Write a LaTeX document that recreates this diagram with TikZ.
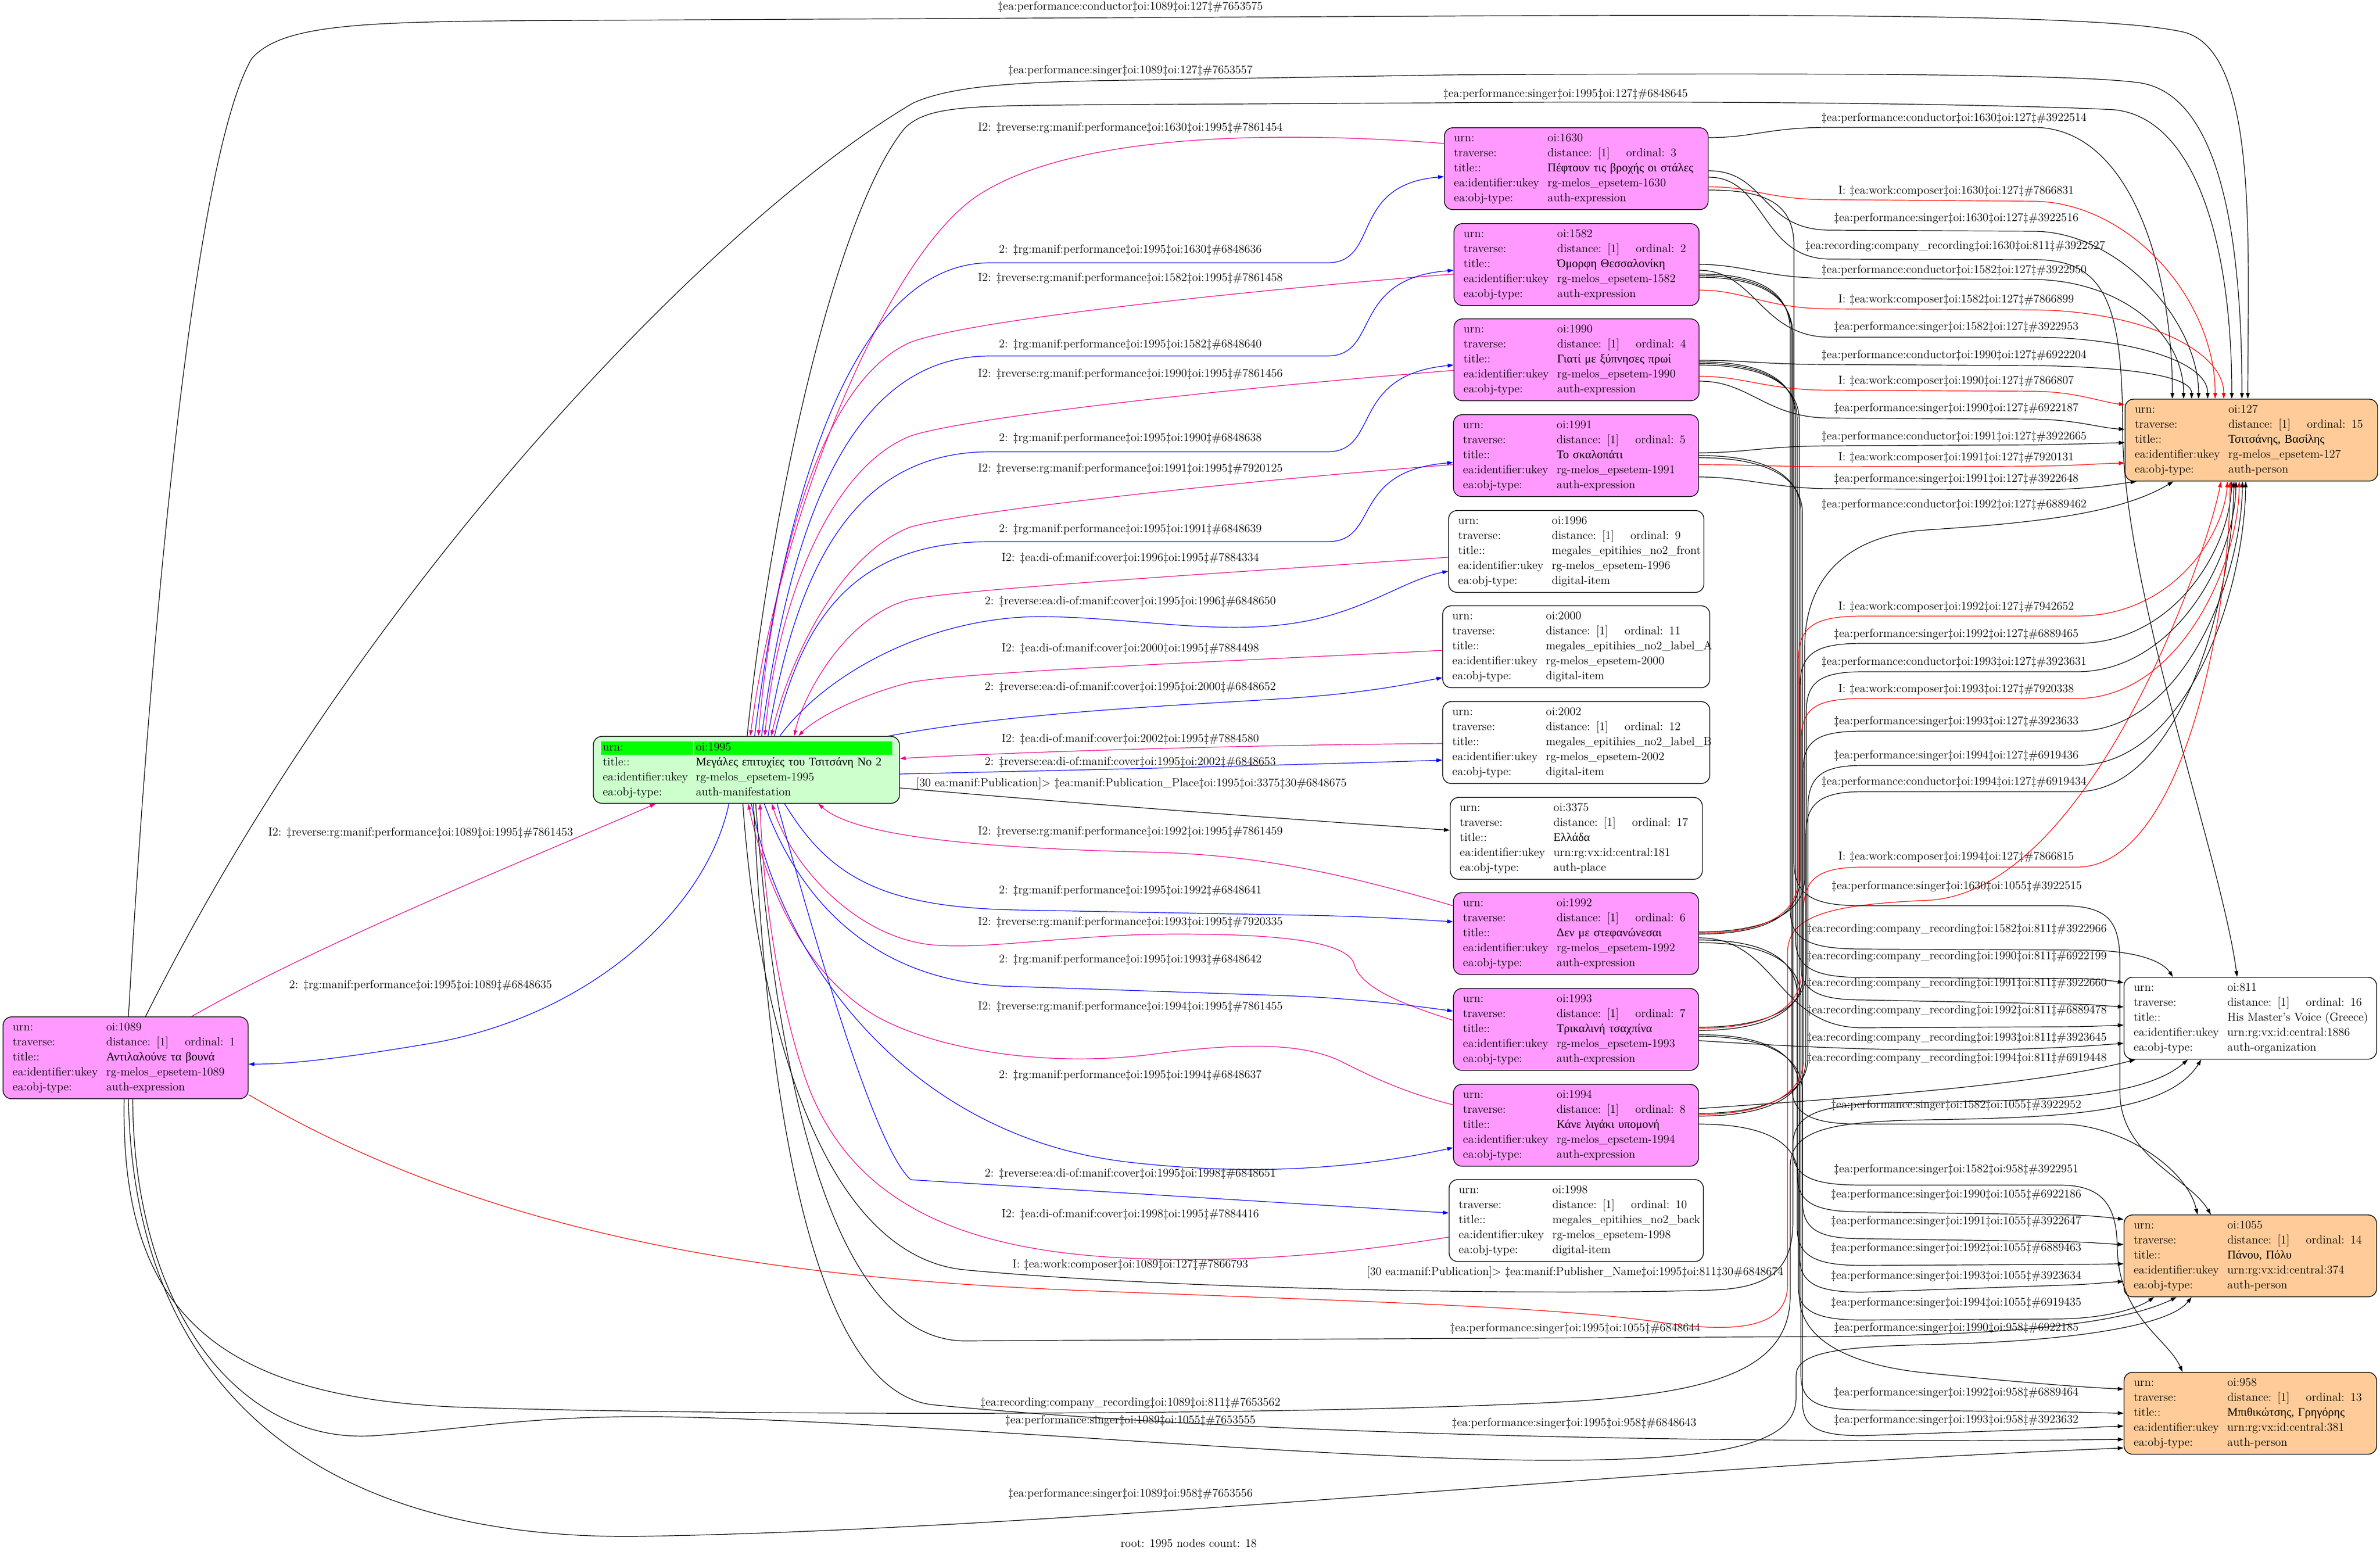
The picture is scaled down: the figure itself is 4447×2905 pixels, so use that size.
\documentclass[tikz,border=0pt]{standalone}
\usepackage{fontspec}
\newfontfamily\grfont{Liberation Serif}
\usepackage{tikz}
\usetikzlibrary{arrows.meta}

\definecolor{exprfill}{HTML}{FF99FF}
\definecolor{agentfill}{HTML}{FFCC99}
\definecolor{maniffill}{HTML}{CCFFCC}
\definecolor{rootgreen}{HTML}{00FF00}

\newcommand{\col}[1]{\makebox[87.5pt][l]{#1}}
\newcommand{\card}[5]{\col{urn:}oi:#1\\
  \col{traverse:}\makebox[73.5pt][l]{distance: [1]}ordinal: #2\\
  \col{title::}\mbox{#3}\\
  \col{ea:identifier:ukey}\mbox{#4}\\
  \col{ea:obj-type:}\mbox{#5}}
\newcommand{\hdr}[2]{\colorbox{rootgreen}{\makebox[#1][l]{\rule[-3.8pt]{0pt}{12.5pt}\hspace{1.8pt}#2}}}
\newcommand{\mcol}[1]{\makebox[88.8pt][l]{\hspace{1.8pt}#1}}

\tikzset{
  rec/.style={draw, line width=0.7pt, rounded corners=8pt, anchor=north west,
    inner xsep=9pt, inner ysep=0pt, minimum height=76.5pt, align=left,
    font=\fontsize{11}{14}\selectfont, text width=#1},
  expr/.style={rec=#1, fill=exprfill},
  agent/.style={rec=218pt, fill=agentfill},
  dig/.style={rec=#1, fill=white},
  wire/.style={line width=0.6pt, -{Triangle[length=5.5pt,width=3.6pt]}},
  rev/.style={wire, draw=magenta},
  fwd/.style={wire, draw=blue},
  comp/.style={wire, draw=red},
  lbl/.style={font=\fontsize{11}{13}\selectfont, inner sep=0pt},
}

\begin{document}
\begin{tikzpicture}[x=0.5pt,y=-0.5pt]
  \fill[white] (0,0) rectangle (4447,2905);
  \useasboundingbox (0,0) rectangle (4447,2905);

  % records
  \node[rec=272pt, fill=maniffill, inner xsep=7pt, minimum height=62.5pt] (n1995) at (1108,1375)
    {\mbox{\setlength{\fboxsep}{0pt}\hdr{86pt}{urn:}\hspace{1pt}\hdr{185pt}{oi:1995}}\\
     \mcol{title::}{\grfont Μεγάλες επιτυχίες του Τσιτσάνη No 2}\\
     \mcol{ea:identifier:ukey}rg-melos\_epsetem-1995\\
     \mcol{ea:obj-type:}auth-manifestation};
  \node[expr=211pt] (n1089) at (5,1899) {\card{1089}{1}{\grfont Αντιλαλούνε τα βουνά}{rg-melos\_epsetem-1089}{auth-expression}};
  \node[expr=228.5pt] (n1630) at (2698,238) {\card{1630}{3}{\grfont Πέφτουν τις βροχής οι στάλες}{rg-melos\_epsetem-1630}{auth-expression}};
  \node[expr=211pt] (n1582) at (2716,417) {\card{1582}{2}{\grfont Όμορφη Θεσσαλονίκη}{rg-melos\_epsetem-1582}{auth-expression}};
  \node[expr=211pt] (n1990) at (2716,595) {\card{1990}{4}{\grfont Γιατί με ξύπνησες πρωί}{rg-melos\_epsetem-1990}{auth-expression}};
  \node[expr=211pt] (n1991) at (2715,774) {\card{1991}{5}{\grfont Το σκαλοπάτι}{rg-melos\_epsetem-1991}{auth-expression}};
  \node[dig=220.5pt] (n1996) at (2706,953) {\card{1996}{9}{megales\_epitihies\_no2\_front}{rg-melos\_epsetem-1996}{digital-item}};
  \node[dig=231.5pt] (n2000) at (2695,1131) {\card{2000}{11}{megales\_epitihies\_no2\_label\_A}{rg-melos\_epsetem-2000}{digital-item}};
  \node[dig=231.5pt] (n2002) at (2695,1310) {\card{2002}{12}{megales\_epitihies\_no2\_label\_B}{rg-melos\_epsetem-2002}{digital-item}};
  \node[dig=217.5pt] (n3375) at (2709,1489) {\card{3375}{17}{\grfont Ελλάδα}{urn:rg:vx:id:central:181}{auth-place}};
  \node[expr=211pt] (n1992) at (2715,1667) {\card{1992}{6}{\grfont Δεν με στεφανώνεσαι}{rg-melos\_epsetem-1992}{auth-expression}};
  \node[expr=211pt] (n1993) at (2715,1846) {\card{1993}{7}{\grfont Τρικαλινή τσαχπίνα}{rg-melos\_epsetem-1993}{auth-expression}};
  \node[expr=211pt] (n1994) at (2715,2025) {\card{1994}{8}{\grfont Κάνε λιγάκι υπομονή}{rg-melos\_epsetem-1994}{auth-expression}};
  \node[dig=219.5pt] (n1998) at (2707,2203) {\card{1998}{10}{megales\_epitihies\_no2\_back}{rg-melos\_epsetem-1998}{digital-item}};
  \node[agent] (n127) at (3970,745) {\card{127}{15}{\grfont Τσιτσάνης, Βασίλης}{rg-melos\_epsetem-127}{auth-person}};
  \node[rec=218pt, fill=white] (n811) at (3968,1825) {\card{811}{16}{His Master's Voice (Greece)}{urn:rg:vx:id:central:1886}{auth-organization}};
  \node[agent] (n1055) at (3968,2269) {\card{1055}{14}{\grfont Πάνου, Πόλυ}{urn:rg:vx:id:central:374}{auth-person}};
  \node[agent] (n958) at (3968,2563) {\card{958}{13}{\grfont Μπιθικώτσης, Γρηγόρης}{urn:rg:vx:id:central:381}{auth-person}};

  % manifestation <-> expressions, items (top side)
  \draw[rev] (n1630.west|-0,268) .. controls (2400,245) and (2000,245) .. (1820,370) .. controls (1640,500) and (1450,1000) .. (n1995.north-|1402,0)
    node[lbl] at (2112,239) {I2: ‡reverse:rg:manif:performance‡oi:1630‡oi:1995‡\#7861454};
  \draw[fwd] (n1995.north-|1410,0) .. controls (1470,900) and (1600,491) .. (1850,491) -- (2480,491) .. controls (2580,491) and (2520,345) .. (n1630.west|-0,330)
    node[lbl] at (2112,467) {2: ‡rg:manif:performance‡oi:1995‡oi:1630‡\#6848636};
  \draw[rev] (n1582.west|-0,512) .. controls (2300,545) and (1800,600) .. (1700,640) .. controls (1520,720) and (1440,1100) .. (n1995.north-|1417,0)
    node[lbl] at (2112,520) {I2: ‡reverse:rg:manif:performance‡oi:1582‡oi:1995‡\#7861458};
  \draw[fwd] (n1995.north-|1423,0) .. controls (1480,950) and (1600,665) .. (1850,665) -- (2480,665) .. controls (2580,665) and (2520,520) .. (n1582.west|-0,505)
    node[lbl] at (2112,644) {2: ‡rg:manif:performance‡oi:1995‡oi:1582‡\#6848640};
  \draw[rev] (n1990.west|-0,692) .. controls (2300,725) and (1800,780) .. (1700,815) .. controls (1540,880) and (1450,1150) .. (n1995.north-|1429,0)
    node[lbl] at (2112,699) {I2: ‡reverse:rg:manif:performance‡oi:1990‡oi:1995‡\#7861456};
  \draw[fwd] (n1995.north-|1435,0) .. controls (1490,1050) and (1600,844) .. (1850,844) -- (2480,844) .. controls (2580,844) and (2520,700) .. (n1990.west|-0,682)
    node[lbl] at (2112,819) {2: ‡rg:manif:performance‡oi:1995‡oi:1990‡\#6848638};
  \draw[rev] (n1991.west|-0,868) .. controls (2300,900) and (1800,955) .. (1700,985) .. controls (1560,1040) and (1470,1250) .. (n1995.north-|1441,0)
    node[lbl] at (2112,876) {I2: ‡reverse:rg:manif:performance‡oi:1991‡oi:1995‡\#7920125};
  \draw[fwd] (n1995.north-|1447,0) .. controls (1500,1150) and (1600,1012) .. (1850,1012) -- (2480,1012) .. controls (2580,1012) and (2520,880) .. (n1991.west|-0,864)
    node[lbl] at (2112,989) {2: ‡rg:manif:performance‡oi:1995‡oi:1991‡\#6848639};
  \draw[rev] (n1996.west|-0,1041) .. controls (2300,1070) and (1800,1100) .. (1700,1120) .. controls (1580,1150) and (1500,1300) .. (n1995.north-|1484,0)
    node[lbl] at (2112,1043) {I2: ‡ea:di-of:manif:cover‡oi:1996‡oi:1995‡\#7884334};
  \draw[fwd] (n1995.north-|1457,0) .. controls (1550,1250) and (1750,1150) .. (1950,1152) .. controls (2150,1154) and (2330,1200) .. (2500,1145) .. controls (2580,1120) and (2640,1080) .. (n1996.west|-0,1067)
    node[lbl] at (2112,1124) {2: ‡reverse:ea:di-of:manif:cover‡oi:1995‡oi:1996‡\#6848650};
  \draw[rev] (n2000.west|-0,1215) .. controls (2300,1235) and (1800,1255) .. (1700,1275) .. controls (1600,1300) and (1520,1345) .. (n1995.north-|1492,0)
    node[lbl] at (2112,1212) {I2: ‡ea:di-of:manif:cover‡oi:2000‡oi:1995‡\#7884498};
  \draw[fwd] (n1995.north-|1660,0) .. controls (1900,1330) and (2200,1318) .. (2400,1305) .. controls (2550,1295) and (2620,1280) .. (n2000.west|-0,1266)
    node[lbl] at (2112,1284) {2: ‡reverse:ea:di-of:manif:cover‡oi:1995‡oi:2000‡\#6848652};
  \draw[rev] (n2002.west|-0,1389) .. controls (2300,1392) and (1900,1405) .. (n1995.east|-0,1417)
    node[lbl] at (2112,1381) {I2: ‡ea:di-of:manif:cover‡oi:2002‡oi:1995‡\#7884580};
  \draw[fwd] (n1995.east|-0,1446) .. controls (1950,1440) and (2400,1430) .. (n2002.west|-0,1420)
    node[lbl] at (2112,1424) {2: ‡reverse:ea:di-of:manif:cover‡oi:1995‡oi:2002‡\#6848653};
  \draw[wire] (n1995.east|-0,1472) .. controls (2000,1500) and (2400,1530) .. (n3375.west|-0,1551)
    node[lbl] at (2114,1464) {[30 ea:manif:Publication]> ‡ea:manif:Publication\_Place‡oi:1995‡oi:3375‡30\#6848675};

  % manifestation <-> expressions, items (bottom side)
  \draw[rev] (n1992.west|-0,1692) .. controls (2500,1630) and (2350,1597) .. (2150,1592) .. controls (1850,1585) and (1600,1565) .. (n1995.south-|1529,0)
    node[lbl] at (2112,1553.6) {I2: ‡reverse:rg:manif:performance‡oi:1992‡oi:1995‡\#7861459};
  \draw[fwd] (n1995.south-|1466,0) .. controls (1550,1640) and (1650,1695) .. (1900,1700) -- (2450,1710) .. controls (2580,1713) and (2650,1718) .. (n1992.west|-0,1722)
    node[lbl] at (2112,1664) {2: ‡rg:manif:performance‡oi:1995‡oi:1992‡\#6848641};
  \draw[rev] (n1993.west|-0,1906) .. controls (2600,1870) and (2540,1840) .. (2530,1800) .. controls (2515,1760) and (2400,1745) .. (2200,1745) .. controls (2000,1745) and (1850,1775) .. (1740,1765) .. controls (1600,1750) and (1480,1620) .. (n1995.south-|1442,0)
    node[lbl] at (2112,1723) {I2: ‡reverse:rg:manif:performance‡oi:1993‡oi:1995‡\#7920335};
  \draw[fwd] (n1995.south-|1428,0) .. controls (1500,1700) and (1650,1840) .. (1900,1843) -- (2400,1860) .. controls (2550,1866) and (2650,1880) .. (n1993.west|-0,1889)
    node[lbl] at (2112,1792.5) {2: ‡rg:manif:performance‡oi:1995‡oi:1993‡\#6848642};
  \draw[rev] (n1994.west|-0,2064) .. controls (2620,2040) and (2560,2010) .. (2500,1980) .. controls (2420,1945) and (2300,1950) .. (2150,1970) .. controls (1950,1995) and (1750,1960) .. (1640,1900) .. controls (1500,1820) and (1430,1650) .. (n1995.south-|1398,0)
    node[lbl] at (2112,1881) {I2: ‡reverse:rg:manif:performance‡oi:1994‡oi:1995‡\#7861455};
  \draw[fwd] (n1995.south-|1404,0) .. controls (1460,1800) and (1700,2120) .. (2100,2170) .. controls (2350,2200) and (2550,2180) .. (n1994.west|-0,2144)
    node[lbl] at (2112,2009) {2: ‡rg:manif:performance‡oi:1995‡oi:1994‡\#6848637};
  \draw[fwd] (n1995.south-|1452,0) .. controls (1540,1820) and (1640,2150) .. (1702,2204) -- (n1998.west|-0,2266)
    node[lbl] at (2112,2193) {2: ‡reverse:ea:di-of:manif:cover‡oi:1995‡oi:1998‡\#6848651};
  \draw[rev] (n1998.west|-0,2311) .. controls (2500,2345) and (2300,2360) .. (2100,2350) .. controls (1800,2335) and (1580,2250) .. (1500,2000) .. controls (1450,1850) and (1425,1650) .. (n1995.south-|1420,0)
    node[lbl] at (2112,2268.5) {I2: ‡ea:di-of:manif:cover‡oi:1998‡oi:1995‡\#7884416};

  % manifestation <-> 1089
  \draw[rev] (n1089.north-|358,0) .. controls (600,1760) and (1000,1600) .. (n1995.south-|1225,0)
    node[lbl] at (786,1555.5) {I2: ‡reverse:rg:manif:performance‡oi:1089‡oi:1995‡\#7861453};
  \draw[fwd] (n1995.south-|1362,0) .. controls (1320,1700) and (1100,1900) .. (800,1950) .. controls (650,1975) and (550,1988) .. (n1089.east|-0,1988)
    node[lbl] at (786,1841) {2: ‡rg:manif:performance‡oi:1995‡oi:1089‡\#6848635};

  % long edges over the top
  \draw[wire] (n1089.north-|240,0) .. controls (280,1200) and (360,300) .. (470,110) .. controls (530,40) and (700,40) .. (1100,38) -- (2700,30) .. controls (3500,26) and (3950,30) .. (4080,60) .. controls (4220,95) and (4200,450) .. (n127.north-|4200,0)
    node[lbl] at (2112,13.4) {‡ea:performance:conductor‡oi:1089‡oi:127‡\#7653575};
  \draw[wire] (n1089.north-|272,0) .. controls (680,1080) and (1350,400) .. (1707,192) .. controls (1780,160) and (1900,153) .. (2100,150) -- (2700,140) .. controls (3500,135) and (3900,140) .. (4000,155) .. controls (4150,180) and (4189,450) .. (n127.north-|4189,0)
    node[lbl] at (2112,132) {‡ea:performance:singer‡oi:1089‡oi:127‡\#7653557};
  \draw[wire] (n1995.north-|1396,0) .. controls (1440,950) and (1560,400) .. (1690,240) .. controls (1730,200) and (1800,198) .. (2000,196) -- (2700,192) .. controls (3300,187) and (3800,197) .. (3950,205) .. controls (4100,220) and (4170,450) .. (n127.north-|4170,0)
    node[lbl] at (2925,176) {‡ea:performance:singer‡oi:1995‡oi:127‡\#6848645};

  % long edges under the bottom
  \draw[comp] (n1089.east|-0,2045) .. controls (900,2300) and (1400,2385) .. (2000,2410) .. controls (2500,2430) and (2900,2440) .. (3100,2470) .. controls (3250,2492) and (3340,2480) .. (3340,2400) -- (3340,1780) .. controls (3340,1710) and (3420,1690) .. (3600,1682) .. controls (3900,1670) and (4120,1050) .. (n127.south-|4150,0)
    node[lbl] at (2112,2362.6) {I: ‡ea:work:composer‡oi:1089‡oi:127‡\#7866793};
  \draw[wire] (n1995.south-|1388,0) .. controls (1420,1950) and (1550,2345) .. (1800,2372) .. controls (2200,2410) and (2900,2420) .. (3200,2410) .. controls (3320,2406) and (3350,2360) .. (3350,2280) -- (3350,2140) .. controls (3350,2080) and (3400,2062) .. (3550,2060) .. controls (3800,2056) and (4000,2055) .. (n811.south-|4088,0)
    node[lbl] at (2943,2377) {[30 ea:manif:Publication]> ‡ea:manif:Publisher\_Name‡oi:1995‡oi:811‡30\#6848674};
  \draw[wire] (n1995.south-|1412,0) .. controls (1450,2000) and (1550,2500) .. (1800,2505) -- (3400,2497) .. controls (3700,2495) and (3950,2480) .. (n1055.south-|4067,0)
    node[lbl] at (2943,2482) {‡ea:performance:singer‡oi:1995‡oi:1055‡\#6848644};
  \draw[wire] (n1089.south-|232,0) .. controls (225,2450) and (400,2620) .. (900,2630) .. controls (1400,2645) and (2400,2645) .. (2900,2620) .. controls (3200,2605) and (3345,2560) .. (3345,2420) -- (3345,2180) .. controls (3345,2110) and (3420,2095) .. (3600,2092) .. controls (3850,2088) and (4050,2080) .. (n811.south-|4113,0)
    node[lbl] at (2112,2620.7) {‡ea:recording:company\_recording‡oi:1089‡oi:811‡\#7653562};
  \draw[wire] (n1089.south-|248,0) .. controls (250,2450) and (450,2700) .. (700,2682) .. controls (900,2668) and (1000,2640) .. (1300,2648) .. controls (1800,2662) and (2500,2728) .. (2900,2728) .. controls (3250,2728) and (3356,2690) .. (3356,2610) -- (3356,2570) .. controls (3356,2530) and (3420,2516) .. (3600,2512) .. controls (3850,2507) and (4050,2480) .. (n1055.south-|4095,0)
    node[lbl] at (2112,2654) {‡ea:performance:singer‡oi:1089‡oi:1055‡\#7653555};
  \draw[wire] (n1995.south-|1408,0) .. controls (1440,2200) and (1550,2612) .. (1750,2625) .. controls (2200,2668) and (3000,2700) .. (n958.west|-0,2689)
    node[lbl] at (2941,2659) {‡ea:performance:singer‡oi:1995‡oi:958‡\#6848643};
  \draw[wire] (n1089.south-|240,0) .. controls (250,2600) and (600,2880) .. (1200,2870) .. controls (1800,2860) and (2600,2790) .. (3200,2748) .. controls (3600,2720) and (3850,2710) .. (n958.west|-0,2705)
    node[lbl] at (2112,2790.6) {‡ea:performance:singer‡oi:1089‡oi:958‡\#7653556};

  % 1630
  \draw[wire] (n1630.east|-0,257) .. controls (3280,257) and (3300,238) .. (3420,238) -- (3800,238) .. controls (3980,238) and (4059,500) .. (n127.north-|4059,0)
    node[lbl] at (3651,221) {‡ea:performance:conductor‡oi:1630‡oi:127‡\#3922514};
  \draw[comp] (n1630.east|-0,349) .. controls (3280,349) and (3300,373) .. (3420,373) -- (3800,376) .. controls (3980,378) and (4139,560) .. (n127.north-|4139,0)
    node[lbl] at (3655,357.5) {I: ‡ea:work:composer‡oi:1630‡oi:127‡\#7866831};
  \draw[wire] (n1630.east|-0,319) .. controls (3300,319) and (3290,430) .. (3420,430) -- (3800,432) .. controls (3960,433) and (4108,600) .. (n127.north-|4108,0)
    node[lbl] at (3655,408) {‡ea:performance:singer‡oi:1630‡oi:127‡\#3922516};
  \draw[wire] (n1630.east|-0,331) .. controls (3300,331) and (3290,484) .. (3420,484) -- (3800,485) .. controls (3930,485) and (3966,560) .. (3966,800) .. controls (3966,1100) and (4150,1600) .. (n811.north-|4180,0)
    node[lbl] at (3653,459.6) {‡ea:recording:company\_recording‡oi:1630‡oi:811‡\#3922527};
  \draw[wire] (n1630.east|-0,355) .. controls (3300,355) and (3352,380) .. (3352,460) -- (3352,1610) .. controls (3352,1675) and (3390,1692) .. (3480,1692) -- (3850,1692) .. controls (3940,1692) and (3961,1720) .. (3961,1800) -- (3961,2040) .. controls (3961,2160) and (4090,2200) .. (n1055.north-|4131,0)
    node[lbl] at (3656,1656) {‡ea:performance:singer‡oi:1630‡oi:1055‡\#3922515};

  % 1582
  \draw[wire] (n1582.east|-0,494) .. controls (3260,494) and (3300,520) .. (3420,520) -- (3800,522) .. controls (3960,524) and (4080,620) .. (n127.north-|4080,0)
    node[lbl] at (3651,504.5) {‡ea:performance:conductor‡oi:1582‡oi:127‡\#3922950};
  \draw[comp] (n1582.east|-0,542) .. controls (3260,542) and (3300,577) .. (3420,577) -- (3800,579) .. controls (3990,580) and (4155,650) .. (n127.north-|4155,0)
    node[lbl] at (3655,560) {I: ‡ea:work:composer‡oi:1582‡oi:127‡\#7866899};
  \draw[wire] (n1582.east|-0,505) .. controls (3280,505) and (3290,630) .. (3420,630) -- (3800,630) .. controls (3960,630) and (4125,670) .. (n127.north-|4125,0)
    node[lbl] at (3655,611) {‡ea:performance:singer‡oi:1582‡oi:127‡\#3922953};
  \draw[wire] (n1582.east|-0,512) .. controls (3280,512) and (3345,540) .. (3345,620) -- (3345,1700) .. controls (3345,1755) and (3380,1773) .. (3480,1773) -- (3900,1775) .. controls (3990,1776) and (4040,1795) .. (n811.north-|4060,0)
    node[lbl] at (3656,1736) {‡ea:recording:company\_recording‡oi:1582‡oi:811‡\#3922966};
  \draw[wire] (n1582.east|-0,515) .. controls (3280,515) and (3348,545) .. (3348,625) -- (3348,2030) .. controls (3348,2085) and (3390,2100) .. (3480,2100) -- (3850,2100) .. controls (3960,2100) and (4085,2180) .. (n1055.north-|4106,0)
    node[lbl] at (3655,2065) {‡ea:performance:singer‡oi:1582‡oi:1055‡\#3922952};
  \draw[wire] (n1582.east|-0,518) .. controls (3280,518) and (3350,548) .. (3350,628) -- (3350,2150) .. controls (3350,2200) and (3390,2214) .. (3480,2214) -- (3850,2214) .. controls (3935,2214) and (3955,2260) .. (3956,2330) .. controls (3958,2460) and (4050,2500) .. (n958.north-|4078,0)
    node[lbl] at (3655,2185) {‡ea:performance:singer‡oi:1582‡oi:958‡\#3922951};

  % 1990
  \draw[wire] (n1990.east|-0,673) .. controls (3260,673) and (3300,681) .. (3420,681) -- (3800,683) .. controls (3960,685) and (4095,700) .. (n127.north-|4095,0)
    node[lbl] at (3651,663.7) {‡ea:performance:conductor‡oi:1990‡oi:127‡\#6922204};
  \draw[comp] (n1990.east|-0,703) .. controls (3260,703) and (3300,729) .. (3420,729) -- (3800,731) .. controls (3880,732) and (3920,750) .. (n127.west|-0,756)
    node[lbl] at (3655,712) {I: ‡ea:work:composer‡oi:1990‡oi:127‡\#7866807};
  \draw[wire] (n1990.east|-0,712) .. controls (3270,712) and (3300,781) .. (3420,781) -- (3800,783) .. controls (3880,784) and (3920,799) .. (n127.west|-0,802)
    node[lbl] at (3655,762.6) {‡ea:performance:singer‡oi:1990‡oi:127‡\#6922187};
  \draw[wire] (n1990.east|-0,676) .. controls (3280,676) and (3355,702) .. (3355,780) -- (3355,1755) .. controls (3355,1808) and (3390,1826) .. (3480,1826) -- (3880,1828) .. controls (3920,1829) and (3945,1832) .. (n811.west|-0,1836)
    node[lbl] at (3656,1787) {‡ea:recording:company\_recording‡oi:1990‡oi:811‡\#6922199};
  \draw[wire] (n1990.east|-0,679) .. controls (3280,679) and (3358,705) .. (3358,785) -- (3358,2195) .. controls (3358,2248) and (3392,2264) .. (3480,2264) -- (3880,2270) .. controls (3920,2272) and (3945,2275) .. (n1055.west|-0,2278)
    node[lbl] at (3655,2232) {‡ea:performance:singer‡oi:1990‡oi:1055‡\#6922186};
  \draw[wire] (n1990.east|-0,682) .. controls (3280,682) and (3362,708) .. (3362,788) -- (3362,2420) .. controls (3362,2500) and (3450,2550) .. (3600,2565) .. controls (3800,2585) and (3900,2592) .. (n958.west|-0,2595)
    node[lbl] at (3655,2481) {‡ea:performance:singer‡oi:1990‡oi:958‡\#6922185};

  % 1991
  \draw[wire] (n1991.east|-0,846) .. controls (3260,846) and (3300,833) .. (3420,833) -- (3800,831) .. controls (3880,830) and (3920,828) .. (n127.west|-0,827)
    node[lbl] at (3651,816) {‡ea:performance:conductor‡oi:1991‡oi:127‡\#3922665};
  \draw[comp] (n1991.east|-0,868) .. controls (3260,868) and (3330,872) .. (3420,872) -- (3800,871) .. controls (3880,870) and (3920,866) .. (n127.west|-0,865)
    node[lbl] at (3655,855) {I: ‡ea:work:composer‡oi:1991‡oi:127‡\#7920131};
  \draw[wire] (n1991.east|-0,891) .. controls (3260,891) and (3320,913) .. (3420,913) -- (3800,915) .. controls (3900,915) and (3950,905) .. (n127.south-|3992,0)
    node[lbl] at (3655,895) {‡ea:performance:singer‡oi:1991‡oi:127‡\#3922648};
  \draw[wire] (n1991.east|-0,851) .. controls (3280,851) and (3365,877) .. (3365,957) -- (3365,1805) .. controls (3365,1852) and (3400,1868) .. (3480,1868) -- (3880,1876) .. controls (3920,1877) and (3945,1880) .. (n811.west|-0,1881)
    node[lbl] at (3656,1837) {‡ea:recording:company\_recording‡oi:1991‡oi:811‡\#3922660};
  \draw[wire] (n1991.east|-0,855) .. controls (3280,855) and (3368,881) .. (3368,961) -- (3368,2245) .. controls (3368,2298) and (3400,2314) .. (3480,2314) -- (3880,2320) .. controls (3920,2322) and (3945,2324) .. (n1055.west|-0,2325)
    node[lbl] at (3655,2282) {‡ea:performance:singer‡oi:1991‡oi:1055‡\#3922647};

  % 1992
  \draw[wire] (n1992.east|-0,1741) .. controls (3280,1741) and (3372,1715) .. (3372,1640) -- (3372,1210) .. controls (3372,1080) and (3450,1000) .. (3600,990) .. controls (3800,977) and (3960,960) .. (n127.south-|4061,0)
    node[lbl] at (3651,942.8) {‡ea:performance:conductor‡oi:1992‡oi:127‡\#6889462};
  \draw[comp] (n1992.east|-0,1743) .. controls (3280,1743) and (3360,1718) .. (3360,1640) -- (3360,1235) .. controls (3360,1170) and (3390,1151) .. (3480,1151) -- (3880,1151) .. controls (4060,1151) and (4155,1000) .. (n127.south-|4162,0)
    node[lbl] at (3655,1133.6) {I: ‡ea:work:composer‡oi:1992‡oi:127‡\#7942652};
  \draw[wire] (n1992.east|-0,1745) .. controls (3280,1745) and (3363,1720) .. (3363,1640) -- (3363,1285) .. controls (3363,1220) and (3392,1202) .. (3480,1202) -- (3880,1202) .. controls (4060,1202) and (4165,1030) .. (n127.south-|4170,0)
    node[lbl] at (3655,1185) {‡ea:performance:singer‡oi:1992‡oi:127‡\#6889465};
  \draw[wire] (n1992.east|-0,1752) .. controls (3320,1752) and (3320,1920) .. (3480,1920) -- (3880,1918) .. controls (3920,1917) and (3945,1916) .. (n811.west|-0,1915)
    node[lbl] at (3656,1888) {‡ea:recording:company\_recording‡oi:1992‡oi:811‡\#6889478};
  \draw[wire] (n1992.east|-0,1756) .. controls (3280,1756) and (3358,1782) .. (3358,1860) -- (3358,2295) .. controls (3358,2348) and (3395,2364) .. (3480,2364) -- (3880,2362) .. controls (3920,2362) and (3945,2361) .. (n1055.west|-0,2361)
    node[lbl] at (3655,2332) {‡ea:performance:singer‡oi:1992‡oi:1055‡\#6889463};
  \draw[wire] (n1992.east|-0,1761) .. controls (3280,1761) and (3365,1787) .. (3365,1865) -- (3365,2570) .. controls (3365,2620) and (3400,2634) .. (3480,2634) -- (3880,2638) .. controls (3920,2639) and (3945,2640) .. (n958.west|-0,2640)
    node[lbl] at (3655,2602) {‡ea:performance:singer‡oi:1992‡oi:958‡\#6889464};

  % 1993
  \draw[wire] (n1993.east|-0,1919) .. controls (3280,1919) and (3375,1893) .. (3375,1815) -- (3375,1330) .. controls (3375,1275) and (3400,1255) .. (3480,1255) -- (3880,1255) .. controls (4060,1255) and (4175,1050) .. (n127.south-|4178,0)
    node[lbl] at (3651,1236.9) {‡ea:performance:conductor‡oi:1993‡oi:127‡\#3923631};
  \draw[comp] (n1993.east|-0,1921) .. controls (3280,1921) and (3366,1895) .. (3366,1815) -- (3366,1380) .. controls (3366,1322) and (3395,1305) .. (3480,1305) -- (3880,1305) .. controls (4070,1305) and (4182,1060) .. (n127.south-|4184,0)
    node[lbl] at (3655,1288) {I: ‡ea:work:composer‡oi:1993‡oi:127‡\#7920338};
  \draw[wire] (n1993.east|-0,1925) .. controls (3280,1925) and (3369,1899) .. (3369,1820) -- (3369,1440) .. controls (3369,1382) and (3398,1366) .. (3480,1366) -- (3880,1366) .. controls (4080,1366) and (4188,1080) .. (n127.south-|4190,0)
    node[lbl] at (3655,1348) {‡ea:performance:singer‡oi:1993‡oi:127‡\#3923633};
  \draw[wire] (n1993.east|-0,1944) .. controls (3450,1962) and (3700,1970) .. (n811.west|-0,1949)
    node[lbl] at (3656,1939) {‡ea:recording:company\_recording‡oi:1993‡oi:811‡\#3923645};
  \draw[wire] (n1993.east|-0,1933) .. controls (3280,1933) and (3362,1958) .. (3362,2035) -- (3362,2345) .. controls (3362,2398) and (3395,2414) .. (3480,2414) -- (3880,2400) .. controls (3920,2398) and (3945,2395) .. (n1055.west|-0,2394)
    node[lbl] at (3655,2383.6) {‡ea:performance:singer‡oi:1993‡oi:1055‡\#3923634};
  \draw[wire] (n1993.east|-0,1936) .. controls (3280,1936) and (3368,1962) .. (3368,2040) -- (3368,2620) .. controls (3368,2668) and (3400,2682) .. (3480,2682) -- (3880,2668) .. controls (3920,2666) and (3945,2665) .. (n958.west|-0,2664)
    node[lbl] at (3655,2652.5) {‡ea:performance:singer‡oi:1993‡oi:958‡\#3923632};

  % 1994
  \draw[wire] (n1994.east|-0,2071) .. controls (3400,2055) and (3800,2030) .. (n811.south-|3990,0)
    node[lbl] at (3656,1977) {‡ea:recording:company\_recording‡oi:1994‡oi:811‡\#6919448};
  \draw[wire] (n1994.east|-0,2080) .. controls (3280,2080) and (3378,2054) .. (3378,1975) -- (3378,1510) .. controls (3378,1450) and (3405,1430) .. (3480,1430) -- (3880,1430) .. controls (4090,1430) and (4194,1100) .. (n127.south-|4196,0)
    node[lbl] at (3655,1412) {‡ea:performance:singer‡oi:1994‡oi:127‡\#6919436};
  \draw[wire] (n1994.east|-0,2085) .. controls (3280,2085) and (3374,2060) .. (3374,1980) -- (3374,1560) .. controls (3374,1500) and (3402,1479) .. (3480,1479) -- (3880,1479) .. controls (4080,1479) and (4172,1100) .. (n127.south-|4174,0)
    node[lbl] at (3651,1461) {‡ea:performance:conductor‡oi:1994‡oi:127‡\#6919434};
  \draw[comp] (n1994.east|-0,2082) .. controls (3280,2082) and (3370,2056) .. (3370,1978) -- (3370,1700) .. controls (3370,1640) and (3400,1620) .. (3480,1620) -- (3880,1620) .. controls (4080,1620) and (4165,1150) .. (n127.south-|4167,0)
    node[lbl] at (3655,1600.5) {I: ‡ea:work:composer‡oi:1994‡oi:127‡\#7866815};
  \draw[wire] (n1994.east|-0,2100) .. controls (3280,2100) and (3360,2125) .. (3360,2200) -- (3360,2405) .. controls (3360,2452) and (3400,2466) .. (3480,2466) -- (3850,2464) .. controls (3950,2462) and (4000,2440) .. (n1055.south-|4025,0)
    node[lbl] at (3655,2434) {‡ea:performance:singer‡oi:1994‡oi:1055‡\#6919435};

  \node[lbl] (caption) at (2221,2883) {root: 1995 nodes count: 18};
\end{tikzpicture}
\end{document}
